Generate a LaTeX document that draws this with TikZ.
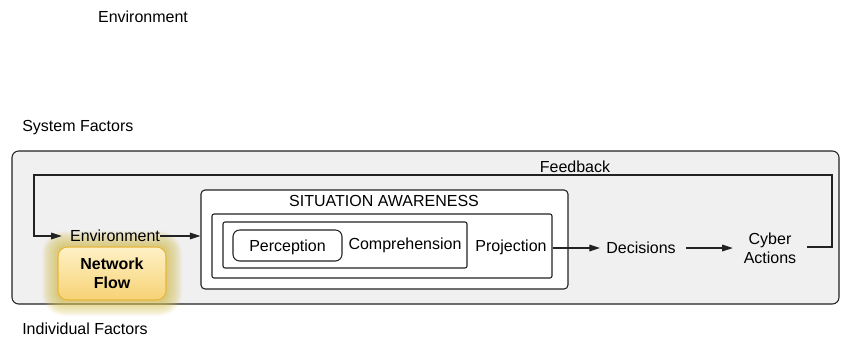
\documentclass[tikz,border=0pt]{standalone}
\usepackage{fontspec}
\setmainfont{Liberation Sans}
\usetikzlibrary{fit,calc,arrows.meta}
\definecolor{boxgray}{HTML}{F0F0F0}
\definecolor{nftop}{HTML}{FEF1C6}
\definecolor{nfbot}{HTML}{F7D274}
\definecolor{nfborder}{HTML}{E6B53C}
\definecolor{glowc}{HTML}{D4BF50}
\definecolor{linec}{HTML}{222222}
\tikzset{
  every node/.style={font=\fontsize{12}{14}\selectfont},
  txt/.style={inner sep=0pt},
  frame/.style={draw=linec, line width=0.8pt, inner sep=0pt},
  arr/.style={draw=linec, line width=0.9pt, -{Triangle[length=8pt,width=5pt]}},
}
\begin{document}
\begin{tikzpicture}[x=0.75pt,y=-0.75pt]
\useasboundingbox (0,0) rectangle (841,337);

% labels outside
\node[txt] (envtop) at (143,17) {Environment};
\node[txt, anchor=west] (sysf) at (22,128) {System Factors};
\node[txt, anchor=west] (indf) at (22,329) {Individual Factors};

% outer gray box
\node[frame, fill=boxgray, rounded corners=5pt, fit={(12,151) (839,304)}] (outer) {};

% feedback label
\node[txt] (fb) at (575,167) {Feedback};

% SA boxes
\node[frame, fill=white, rounded corners=3pt, fit={(201,190) (568,289)}] (sa) {};
\node[txt] (satitle) at (384,201) {SITUATION AWARENESS};
\node[frame, fill=white, rounded corners=1.5pt, fit={(212,214) (552,278)}] (proj) {};
\node[frame, fill=white, rounded corners=1.5pt, fit={(223,222) (467,268)}] (comp) {};
\node[frame, fill=white, rounded corners=5pt, fit={(233,230) (342,261)}] (perc) {};
\node[txt] (perctxt) at (287.5,247) {Perception};
\node[txt] (comptxt) at (405,245) {Comprehension};
\node[txt] (projtxt) at (511,247) {Projection};

% glow + Network Flow
\coordinate (nfa) at (58,247);
\coordinate (nfb) at (166,300);
\foreach \i in {1,...,16}{
  \fill[glowc, opacity=0.065, rounded corners={(7+\i)*0.75pt}]
    ($(nfa)+(-\i,-\i)$) rectangle ($(nfb)+(\i,\i)$);
}
\node[draw=nfborder, line width=0.8pt, rounded corners=7pt, top color=nftop, bottom color=nfbot,
      inner sep=0pt, fit={(nfa) (nfb)}] (nf) {};
\node[txt, font=\fontsize{12}{14}\selectfont\bfseries, align=center] (nftxt) at (nf.center) {Network\\Flow};

% flow nodes
\node[txt] (env) at (115,236) {Environment};
\node[txt] (dec) at (641,248) {Decisions};
\node[txt, align=center] (cyber) at (770,248.5) {Cyber\\Actions};

% connectors
\coordinate (fbr) at (832,247);
\coordinate (fbtr) at (832,175);
\coordinate (fbtl) at (34,175);
\coordinate (fbbl) at (34,236);
\draw[arr, shorten <=8pt, shorten >=6pt] (cyber.east |- fbr) -- (fbr) -- (fbtr) -- (fbtl) -- (fbbl) -- (env.west);
\draw[arr] (env.east) -- (sa.west |- env.east);
\draw[arr, shorten >=4.5pt] (proj.east |- dec.west) -- (dec.west);
\draw[arr, shorten <=7.5pt, shorten >=8pt] (dec.east) -- (dec.east -| cyber.west);
\end{tikzpicture}
\end{document}
